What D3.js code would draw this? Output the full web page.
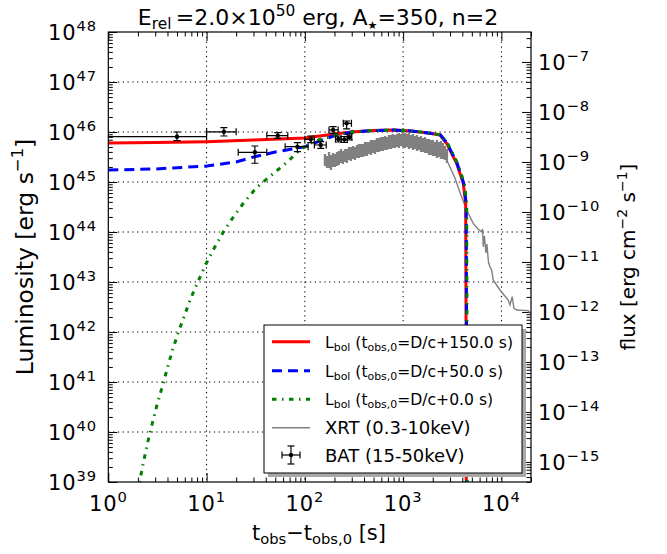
<!DOCTYPE html>
<html><head><meta charset="utf-8">
<script src="https://cdn.jsdelivr.net/npm/d3@7"></script>
<style>
body{margin:0;background:#fff;}
svg text{font-family:"DejaVu Sans","Bitstream Vera Sans",sans-serif;fill:#000;}
</style></head><body>
<svg id="chart" width="667" height="554"></svg>
<script>
// ---- model light curves (time since t_obs,0 [s], luminosity [erg/s]) ----
const redT = [1, 3, 10, 30, 100, 200, 300, 500, 800, 1200, 1800, 2370, 2770, 3500, 4090, 4330, 4385, 4395];
const redL = [6.03e45, 6.17e45, 6.40e45, 6.92e45, 7.59e45, 9.12e45, 1.0e46, 1.07e46, 1.10e46, 1.05e46, 9.55e45, 8.71e45, 5.94e45, 2.37e45, 9.42e44, 3.75e44, 1e41, 1e37];

const blueT = [1, 3, 10, 20, 30, 50, 100, 150, 200, 300, 500, 800, 1200, 1800, 2400, 2800, 3540, 4140, 4380, 4430, 4440];
const blueL = [1.74e45, 1.82e45, 2.09e45, 2.51e45, 3.16e45, 3.98e45, 5.08e45, 6.92e45, 8.43e45, 1.0e46, 1.07e46, 1.10e46, 1.05e46, 9.55e45, 8.71e45, 5.94e45, 2.37e45, 9.42e44, 3.75e44, 1e41, 1e37];

const greenT = [1.98, 2.12, 2.31, 2.53, 2.80, 3.13, 3.52, 3.96, 4.45, 5.11, 5.93, 6.89, 8.18, 9.79, 11.9, 14.9, 19.0, 24.4, 32.3, 45.9, 65.3, 89, 112, 142, 210, 300, 500, 800, 1200, 1800, 2430, 2830, 3580, 4190, 4430, 4480, 4490];
const greenL = [6.3e38, 1.23e39, 2.82e39, 6.46e39, 1.48e40, 3.47e40, 7.76e40, 1.78e41, 4.07e41, 9.33e41, 2.09e42, 4.68e42, 1.02e43, 2.24e43, 4.68e43, 1.02e44, 2.09e44, 4.07e44, 7.76e44, 1.38e45, 2.45e45, 4.37e45, 5.89e45, 7.08e45, 8.71e45, 1.0e46, 1.07e46, 1.10e46, 1.05e46, 9.55e45, 8.71e45, 5.94e45, 2.37e45, 9.42e44, 3.75e44, 1e41, 1e37];

// ---- Swift XRT (0.3-10 keV): densely sampled early part (time, upper, lower) ----
const xrtBandT = [160, 168, 176, 184, 193, 202, 212, 222, 233, 244, 256, 268, 281, 294, 309, 323, 339, 355, 372, 390,
  409, 428, 449, 470, 493, 517, 541, 567, 594, 623, 653, 684, 717, 751, 787, 825, 865, 907, 950, 995,
  1043, 1093, 1146, 1200, 1258, 1318, 1382, 1448, 1518, 1590, 1667, 1747, 1830, 1918, 2010, 2106, 2207, 2313, 2424, 2541,
  2662, 2790];
const xrtBandHi = [3.63e45, 3.31e45, 3.98e45, 3.47e45, 3.80e45, 3.63e45, 3.98e45, 4.17e45, 4.57e45, 4.17e45,
  4.57e45, 4.57e45, 5.01e45, 5.01e45, 5.25e45, 5.01e45, 5.50e45, 5.75e45, 5.75e45, 5.75e45,
  6.31e45, 6.31e45, 6.31e45, 6.92e45, 6.92e45, 6.92e45, 7.59e45, 7.59e45, 7.94e45, 7.94e45,
  8.32e45, 7.94e45, 8.71e45, 8.71e45, 9.12e45, 8.71e45, 9.12e45, 9.55e45, 9.12e45, 1.0e46,
  9.55e45, 9.12e45, 9.55e45, 8.71e45, 9.12e45, 8.32e45, 8.71e45, 7.94e45, 8.32e45, 7.59e45,
  7.94e45, 7.24e45, 7.24e45, 6.92e45, 6.92e45, 6.31e45, 6.92e45, 6.31e45, 6.61e45, 6.03e45,
  5.25e45, 4.57e45];
const xrtBandLo = [2.09e45, 1.91e45, 1.91e45, 1.74e45, 2.00e45, 2.00e45, 2.09e45, 2.19e45, 2.40e45, 2.29e45,
  2.51e45, 2.40e45, 2.75e45, 2.63e45, 2.88e45, 2.75e45, 3.02e45, 3.02e45, 3.16e45, 3.16e45,
  3.31e45, 3.31e45, 3.63e45, 3.47e45, 3.80e45, 3.63e45, 3.98e45, 3.98e45, 4.17e45, 4.17e45,
  4.37e45, 4.37e45, 4.57e45, 4.57e45, 4.79e45, 4.79e45, 5.01e45, 4.79e45, 5.25e45, 5.01e45,
  4.79e45, 5.01e45, 4.57e45, 4.79e45, 4.37e45, 4.57e45, 4.17e45, 4.37e45, 3.98e45, 3.98e45,
  3.80e45, 3.80e45, 3.47e45, 3.47e45, 3.31e45, 3.31e45, 3.02e45, 3.16e45, 2.88e45, 2.88e45,
  2.75e45, 2.40e45];
// sparse late part
const xrtTailT = [2790, 2877, 3365, 3873, 4426, 5166, 5768, 6290, 6440, 6535, 6720, 6956, 7120, 7380, 7640, 7950, 8250, 9660, 11720,
  12200, 12880, 13400, 14290, 18740, 21400];
const xrtTailL = [2.6e45, 2.37e45, 1.20e45, 5.50e44, 2.75e44, 1.49e44, 1.15e44, 1.01e44, 1.15e44, 5.08e43, 8.32e43, 3.80e43, 5.75e43, 2.51e43, 2.02e43, 1.74e43, 1.10e43, 6.92e42, 4.37e42,
  3.47e42, 5.08e42, 2.98e42, 2.75e42, 2.67e42, 1.91e42];

// ---- Swift BAT (15-50 keV) ----
const batT   = [5, 15, 31, 53, 84, 115, 145, 194, 266, 219, 252, 284];
const batTlo = [0.01, 10, 21, 41, 63, 100, 125, 176, 246, 205, 234, 270];
const batThi = [10, 20, 41, 67, 108, 125, 165, 218, 298, 234, 270, 300];
const batL   = [8.05e45, 1.01e46, 3.93e45, 8.43e45, 5.08e45, 7.14e45, 5.50e45, 1.10e46, 1.49e46, 7.24e45, 7.08e45, 7.94e45];
const batLlo = [6.70e45, 8.32e45, 2.37e45, 7.48e45, 4.04e45, 6.11e45, 4.72e45, 9.42e45, 1.15e46, 6.31e45, 6.17e45, 6.92e45];
const batLhi = [1.00e46, 1.22e46, 5.25e45, 9.68e45, 6.11e45, 8.32e45, 6.40e45, 1.28e46, 1.66e46, 8.32e45, 8.13e45, 9.12e45];

// ---- axes ----
const xTickExps = [0, 1, 2, 3, 4];
const lumTickExps = [39, 40, 41, 42, 43, 44, 45, 46, 47, 48];
const fluxTickExps = [-15, -14, -13, -12, -11, -10, -9, -8, -7];
const distanceMpc = 145;

const legendLabels = [
  {curve: "red", offset: "150.0"},
  {curve: "blue", offset: "50.0"},
  {curve: "green", offset: "0.0"}
];

const m = {left: 108.3, right: 531, top: 32, bottom: 482};
const svg = d3.select("#chart");

const x = d3.scaleLog().domain([1, 2e4]).range([m.left, m.right]);
const y = d3.scaleLog().domain([1e39, 1e48]).range([m.bottom, m.top]);
const dCm = distanceMpc * 3.0857e24;
const fourPiD2 = 4 * Math.PI * dCm * dCm;
const yF = d3.scaleLog().domain([1e39 / fourPiD2, 1e48 / fourPiD2]).range([m.bottom, m.top]);

const minus = "\u2212";
const expStr = e => (e < 0 ? minus + Math.abs(e) : String(e));

// rich text: parts [{t, sup|sub, scale}]
function rich(sel, parts, fs, supShift) {
  let shift = 0;
  const up = supShift || 0.42;
  parts.forEach(p => {
    const target = p.sup ? -up * fs : (p.sub ? 0.2 * fs : 0);
    const ts = sel.append("tspan").attr("dy", target - shift).text(p.t);
    if (p.sup || p.sub) ts.attr("font-size", (fs * (p.scale || 0.7)).toFixed(2));
    shift = target;
  });
  return sel;
}

function minorValues(scale) {
  const [a, b] = scale.domain();
  const lo = Math.floor(Math.log10(a)), hi = Math.ceil(Math.log10(b));
  const out = [];
  for (let e = lo; e <= hi; e++) for (let k = 2; k <= 9; k++) {
    const v = k * Math.pow(10, e);
    if (v >= a * 0.9999 && v <= b * 1.0001) out.push(v);
  }
  return out;
}

// clip
svg.append("defs").append("clipPath").attr("id", "plotclip")
  .append("rect").attr("x", m.left).attr("y", m.top)
  .attr("width", m.right - m.left).attr("height", m.bottom - m.top);

// grid
const grid = svg.append("g").attr("stroke", "#000").attr("stroke-width", 1)
  .attr("stroke-dasharray", "1.3,3.5");
xTickExps.slice(1).forEach(e => {
  grid.append("line").attr("x1", x(Math.pow(10, e))).attr("x2", x(Math.pow(10, e)))
    .attr("y1", m.top).attr("y2", m.bottom);
});
lumTickExps.slice(1, -1).forEach(e => {
  grid.append("line").attr("y1", y(Math.pow(10, e))).attr("y2", y(Math.pow(10, e)))
    .attr("x1", m.left).attr("x2", m.right);
});

// ticks via d3 axes (inward)
const MAJ = 9, MIN = 4.5;
function tickAxis(axisFn, scale, vals, size, tx, ty) {
  const g = svg.append("g").attr("transform", `translate(${tx},${ty})`)
    .call(axisFn(scale).tickValues(vals).tickSize(size).tickFormat(""));
  g.select(".domain").remove();
  g.selectAll("line").attr("stroke", "#000").attr("stroke-width", 1);
  return g;
}
const xMaj = xTickExps.map(e => Math.pow(10, e));
const lMaj = lumTickExps.map(e => Math.pow(10, e));
const fMaj = fluxTickExps.map(e => Math.pow(10, e));
tickAxis(d3.axisBottom, x, xMaj, -MAJ, 0, m.bottom);
tickAxis(d3.axisBottom, x, minorValues(x), -MIN, 0, m.bottom);
tickAxis(d3.axisTop, x, xMaj, -MAJ, 0, m.top);
tickAxis(d3.axisTop, x, minorValues(x), -MIN, 0, m.top);
tickAxis(d3.axisLeft, y, lMaj, -MAJ, m.left, 0);
tickAxis(d3.axisLeft, y, minorValues(y), -MIN, m.left, 0);
tickAxis(d3.axisRight, yF, fMaj, -MAJ, m.right, 0);
tickAxis(d3.axisRight, yF, minorValues(yF), -MIN, m.right, 0);

// tick labels
const TFS = 21;
function tickLabel(xp, yp, anchor, e) {
  rich(svg.append("text").attr("x", xp).attr("y", yp).attr("text-anchor", anchor)
    .attr("font-size", TFS).attr("letter-spacing", "0.9px"),
    [{t: "10"}, {t: expStr(e), sup: true}], TFS);
}
xTickExps.forEach(e => tickLabel(x(Math.pow(10, e)), 511, "middle", e));
lumTickExps.forEach(e => tickLabel(97, y(Math.pow(10, e)) + 7.8, "end", e));
fluxTickExps.forEach(e => tickLabel(538, yF(Math.pow(10, e)) + 7.8, "start", e));

// data layers
const plot = svg.append("g").attr("clip-path", "url(#plotclip)");
const line = d3.line().x(d => x(d[0])).y(d => y(d[1]));
const zip = (a, b) => a.map((v, i) => [v, b[i]]);

const xrt = plot.append("g").attr("stroke", "#808080");
xrtBandT.forEach((t, i) => {
  xrt.append("line").attr("x1", x(t)).attr("x2", x(t))
    .attr("y1", y(xrtBandHi[i])).attr("y2", y(xrtBandLo[i])).attr("stroke-width", 2.3);
});
xrt.append("path").datum(zip(xrtTailT, xrtTailL)).attr("d", line)
  .attr("fill", "none").attr("stroke-width", 1.4);

const styles = {
  red:   {color: "#ff0000", dash: null},
  blue:  {color: "#0000ff", dash: "10,6"},
  green: {color: "#008000", dash: "4.5,5.5,1.5,5.5"}
};
const curves = {red: zip(redT, redL), blue: zip(blueT, blueL), green: zip(greenT, greenL)};
["red", "blue", "green"].forEach(k => {
  plot.append("path").datum(curves[k]).attr("d", line)
    .attr("fill", "none").attr("stroke", styles[k].color).attr("stroke-width", 3)
    .attr("stroke-dasharray", styles[k].dash);
});

// BAT error bars
const cap = 3.5;
function errorBar(g, cx, cy, x0, x1, y0, y1) {
  g.append("line").attr("x1", x0).attr("x2", x1).attr("y1", cy).attr("y2", cy);
  g.append("line").attr("x1", cx).attr("x2", cx).attr("y1", y0).attr("y2", y1);
  [x0, x1].forEach(xx => g.append("line").attr("x1", xx).attr("x2", xx).attr("y1", cy - cap).attr("y2", cy + cap));
  [y0, y1].forEach(yy => g.append("line").attr("x1", cx - cap).attr("x2", cx + cap).attr("y1", yy).attr("y2", yy));
  g.append("circle").attr("cx", cx).attr("cy", cy).attr("r", 2.2).attr("fill", "#000").attr("stroke", "none");
}
const bat = plot.append("g").attr("stroke", "#000").attr("stroke-width", 1.2);
batT.forEach((t, i) => {
  errorBar(bat, x(t), y(batL[i]), x(batTlo[i]), x(batThi[i]), y(batLlo[i]), y(batLhi[i]));
});

// frame
svg.append("rect").attr("x", m.left).attr("y", m.top)
  .attr("width", m.right - m.left).attr("height", m.bottom - m.top)
  .attr("fill", "none").attr("stroke", "#000").attr("stroke-width", 1.2);

// legend
const lg = {x: 264, y: 325, w: 258, h: 148};
svg.append("rect").attr("x", lg.x + 4).attr("y", lg.y + 4).attr("width", lg.w).attr("height", lg.h)
  .attr("fill", "#a8a8a8");
svg.append("rect").attr("x", lg.x).attr("y", lg.y).attr("width", lg.w).attr("height", lg.h)
  .attr("fill", "#fff").attr("stroke", "#000").attr("stroke-width", 1);
const rows = [341.7, 370.7, 399.3, 427.7, 455];
const LFS = 15.6, LFS2 = 18;
legendLabels.forEach((d, i) => {
  svg.append("line").attr("x1", 272).attr("x2", 310).attr("y1", rows[i]).attr("y2", rows[i])
    .attr("stroke", styles[d.curve].color).attr("stroke-width", 3)
    .attr("stroke-dasharray", styles[d.curve].dash);
  rich(svg.append("text").attr("x", 325).attr("y", rows[i] + 6).attr("font-size", LFS),
    [{t: "L"}, {t: "bol", sub: true}, {t: " (t"}, {t: "obs,0", sub: true},
     {t: "=D/c+" + d.offset + " s)"}], LFS);
});
svg.append("line").attr("x1", 272).attr("x2", 310).attr("y1", rows[3]).attr("y2", rows[3])
  .attr("stroke", "#808080").attr("stroke-width", 1.5);
svg.append("text").attr("x", 325).attr("y", rows[3] + 6.5).attr("font-size", LFS2).text("XRT (0.3-10keV)");
errorBar(svg.append("g").attr("stroke", "#000").attr("stroke-width", 1.2), 291, rows[4], 282, 300, rows[4] + 9, rows[4] - 9);
svg.append("text").attr("x", 325).attr("y", rows[4] + 6.5).attr("font-size", LFS2).text("BAT (15-50keV)");

// title
const TTL = 22;
rich(svg.append("text").attr("x", 318).attr("y", 25).attr("text-anchor", "middle").attr("font-size", TTL),
  [{t: "E"}, {t: "rel", sub: true}, {t: "\u2009=2.0\u00d710"}, {t: "50", sup: true},
   {t: " erg, A"}, {t: "\u2605", sub: true, scale: 0.5}, {t: "=350, n=2"}], TTL);

// axis titles
rich(svg.append("text").attr("x", 319).attr("y", 540).attr("text-anchor", "middle").attr("font-size", 21),
  [{t: "t"}, {t: "obs", sub: true}, {t: "\u2212t"}, {t: "obs,0", sub: true}, {t: " [s]"}], 21);
rich(svg.append("text").attr("transform", `translate(33,${(m.top + m.bottom) / 2}) rotate(-90)`)
  .attr("text-anchor", "middle").attr("font-size", 23.5),
  [{t: "Luminosity [erg s"}, {t: minus + "1", sup: true}, {t: "]"}], 23.5);
rich(svg.append("text").attr("transform", `translate(635,${(m.top + m.bottom) / 2}) rotate(-90)`)
  .attr("text-anchor", "middle").attr("font-size", 20),
  [{t: "flux [erg cm"}, {t: minus + "2", sup: true}, {t: " s"}, {t: minus + "1", sup: true}, {t: "]"}], 20);
</script></body></html>
